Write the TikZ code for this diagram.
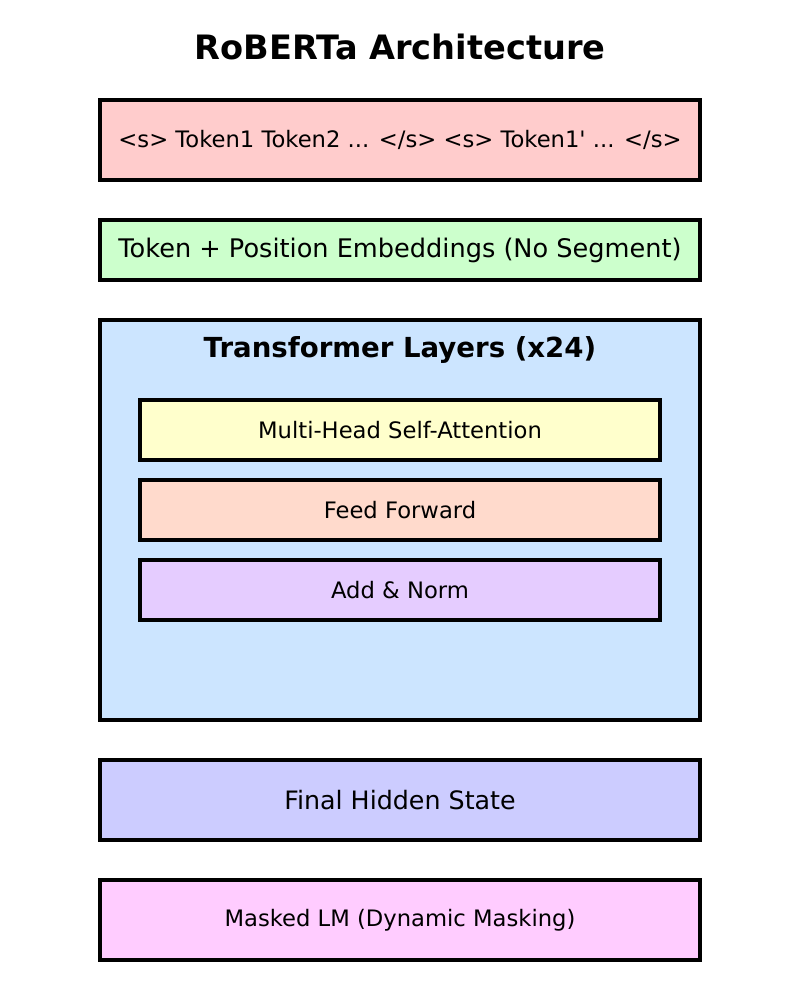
\documentclass[tikz,border=0pt]{standalone}
\usepackage{fontspec}
\setmainfont{DejaVu Sans}
\usetikzlibrary{positioning}

\definecolor{inputfill}{HTML}{FFCCCC}
\definecolor{embedfill}{HTML}{CCFFCC}
\definecolor{layerfill}{HTML}{CCE5FF}
\definecolor{attnfill}{HTML}{FFFFCC}
\definecolor{ffnfill}{HTML}{FFDACC}
\definecolor{normfill}{HTML}{E5CCFF}
\definecolor{hiddenfill}{HTML}{CCCCFF}
\definecolor{mlmfill}{HTML}{FFCCFF}

\newcommand{\pxfont}[1]{\fontsize{#1}{#1}\selectfont}

\begin{document}
\begin{tikzpicture}[x=0.75pt, y=-0.75pt, node distance=30pt,
    block/.style={draw, line width=3pt, outer sep=0pt, inner sep=0pt, minimum width=450pt},
    sublayer/.style={block, minimum width=390pt, minimum height=45pt, font=\pxfont{17}}]
  \useasboundingbox (0,0) rectangle (800,1000);
  \node[font=\bfseries\pxfont{25.2}] (title) at (400,47) {RoBERTa Architecture};
  \node[block, fill=inputfill, minimum height=60pt, font=\pxfont{17}] (input) at (400,140) {<s> Token1 Token2 ... </s> <s> Token1\textquotesingle{} ... </s>};
  \node[block, fill=embedfill, minimum height=45pt, font=\pxfont{19.2}] (embed) [below=of input] {Token + Position Embeddings (No Segment)};
  \node[block, fill=layerfill, minimum height=300pt] (layers) [below=of embed] {};
  \node[font=\bfseries\pxfont{20.7}] (layerstitle) at (400,350) {Transformer Layers (x24)};

  % sub-layers inside the transformer block
  \node[sublayer, fill=attnfill] (attn) [below=60pt of layers.north] {Multi-Head Self-Attention};
  \node[sublayer, fill=ffnfill] (ffn) [below=15pt of attn] {Feed Forward};
  \node[sublayer, fill=normfill] (norm) [below=15pt of ffn] {Add \& Norm};

  \node[block, fill=hiddenfill, minimum height=60pt, font=\pxfont{19}] (hidden) [below=of layers] {Final Hidden State};
  \node[block, fill=mlmfill, minimum height=60pt, font=\pxfont{17}] (mlm) [below=of hidden] {Masked LM (Dynamic Masking)};
\end{tikzpicture}
\end{document}
